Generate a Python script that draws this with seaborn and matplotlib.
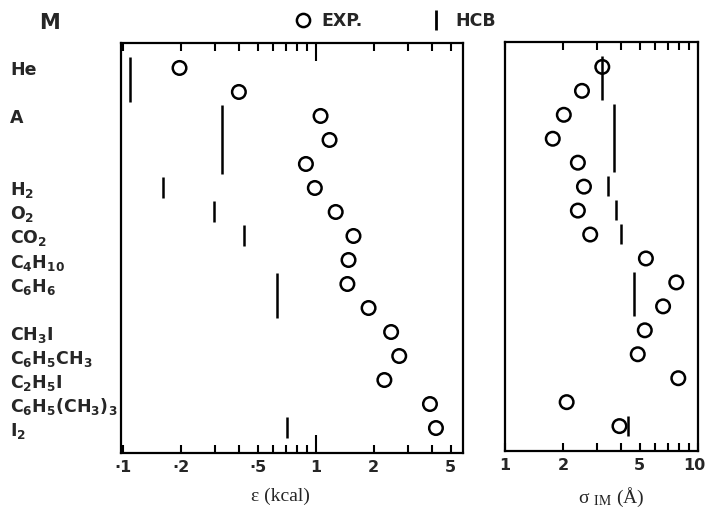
import numpy as np
import pandas as pd
import matplotlib
matplotlib.use('Agg')
import matplotlib.pyplot as plt
from matplotlib.lines import Line2D
from matplotlib.ticker import NullFormatter
from matplotlib.transforms import ScaledTranslation
import seaborn as sns

# one row per molecule, top to bottom (some rows carry no label in the original)
row_labels = ['He', '', 'A', '', '', r'$\mathbf{H_2}$', r'$\mathbf{O_2}$', r'$\mathbf{CO_2}$',
              r'$\mathbf{C_4H_{10}}$', r'$\mathbf{C_6H_6}$', '',
              r'$\mathbf{CH_3I}$', r'$\mathbf{C_6H_5CH_3}$', r'$\mathbf{C_2H_5I}$',
              r'$\mathbf{C_6H_5(CH_3)_3}$', r'$\mathbf{I_2}$']
rows = list(range(len(row_labels)))

# experimental values (open circles)
eps_exp = [0.197, 0.40, 1.06, 1.18, 0.89, 0.99, 1.27, 1.57, 1.48, 1.46,
           1.88, 2.46, 2.71, 2.27, 3.91, 4.2]
sigma_exp = [3.2, 2.51, 2.02, 1.77, 2.39, 2.57, 2.39, 2.77, 5.39, 7.75,
             6.62, 5.32, 4.89, 7.94, 2.09, 3.93]

# HCB values (vertical bars), each bar covers rows hcb_first..hcb_last
hcb_first = [0, 2, 5, 6, 7, 9, 15]
hcb_last = [1, 4, 5, 6, 7, 10, 15]
hcb_eps = [0.109, 0.327, 0.161, 0.298, 0.426, 0.63, 0.71]
hcb_sigma = [3.2, 3.66, 3.44, 3.75, 3.98, 4.66, 4.33]

# axis ticks
eps_ticks = [0.1, 0.2, 0.5, 1, 2, 5]
eps_ticklabels = ['·1', '·2', '·5', '1', '2', '5']
eps_minor = [0.3, 0.4, 0.6, 0.7, 0.8, 0.9, 3, 4]
sigma_ticks = [1, 2, 5, 10]
sigma_ticklabels = ['1', '2', '5', '10']
sigma_minor = [3, 4, 6, 7, 8, 9]

sns.set_style('ticks')
plt.rcParams['font.family'] = ['DejaVu Sans']
plt.rcParams['mathtext.fontset'] = 'stix'

df = pd.DataFrame({'row': rows, 'eps': eps_exp, 'sigma': sigma_exp})

fig = plt.figure(figsize=(7.07, 5.17), dpi=100)
ax1 = fig.add_axes([121 / 707, 1 - 453 / 517, 342 / 707, 410 / 517])
ax2 = fig.add_axes([505 / 707, 1 - 451 / 517, 193 / 707, 409 / 517])

panels = [
    (ax1, 'eps', hcb_eps, eps_ticks, eps_ticklabels, eps_minor, (0.098, 5.8)),
    (ax2, 'sigma', hcb_sigma, sigma_ticks, sigma_ticklabels, sigma_minor, (1.0, 10.05)),
]

for ax, col, hcb, ticks, ticklabels, minor, xlim in panels:
    sns.scatterplot(data=df, x=col, y='row', ax=ax, s=95, marker='o',
                    facecolor='none', edgecolor='black', linewidth=1.8, zorder=3)
    ax.vlines(hcb, np.array(hcb_first) - 0.44, np.array(hcb_last) + 0.4,
              color='black', lw=1.8)
    ax.set_xscale('log')
    ax.set_xlim(*xlim)
    ax.set_ylim(16.04, -1.04)
    ax.set_xticks(ticks)
    ax.set_xticklabels(ticklabels, fontweight='bold')
    ax.set_xticks(minor, minor=True)
    ax.xaxis.set_minor_formatter(NullFormatter())
    ax.tick_params(axis='x', which='both', direction='in', top=True, bottom=True,
                   length=6, width=1.5, labelsize=11.5, pad=5, color='black')
    for sp in ax.spines.values():
        sp.set_linewidth(1.6)
        sp.set_color('black')
    ax.set_ylabel('')

# the tick at 1 kcal is drawn longer
t1 = ax1.xaxis.get_major_ticks()[3]
t1.tick1line.set_markersize(13)
t1.tick2line.set_markersize(13)

# keep "10" inside the figure edge, nudged right like the original
lab10 = ax2.xaxis.get_major_ticks()[-1].label1
lab10.set_ha('right')
lab10.set_transform(lab10.get_transform() + ScaledTranslation(0.08, 0, fig.dpi_scale_trans))

ax1.set_yticks(rows)
ax1.set_yticklabels(row_labels, ha='left', fontweight='bold', fontsize=12.5,
                    math_fontfamily='dejavusans')
ax1.tick_params(axis='y', length=0, pad=(121 - 10) * 0.72)
ax2.set_yticks([])

ax1.set_xlabel('ε (kcal)', family='Liberation Serif', fontsize=14)
ax1.xaxis.set_label_coords(0.465, -0.085)
ax2.set_xlabel(r'σ $_{\mathrm{IM}}$ (Å)', family='Liberation Serif', fontsize=14)
ax2.xaxis.set_label_coords(0.55, -0.085)

fig.text(49 / 707, 1 - 23 / 517, 'M', fontsize=15, fontweight='bold',
         ha='center', va='center')

handles = [
    Line2D([], [], marker='o', ls='none', mfc='none', mec='black', ms=9.5, mew=1.8,
           label='EXP.'),
    Line2D([], [], marker='|', ls='none', color='black', ms=15, mew=2, label='HCB'),
]
fig.legend(handles=handles, loc='center', bbox_to_anchor=(394 / 707, 1 - 21 / 517),
           ncol=2, frameon=False, prop={'weight': 'bold', 'size': 12.5},
           handletextpad=0.5, columnspacing=3.6, handlelength=1.2)

fig.savefig('out.png', dpi=100)
